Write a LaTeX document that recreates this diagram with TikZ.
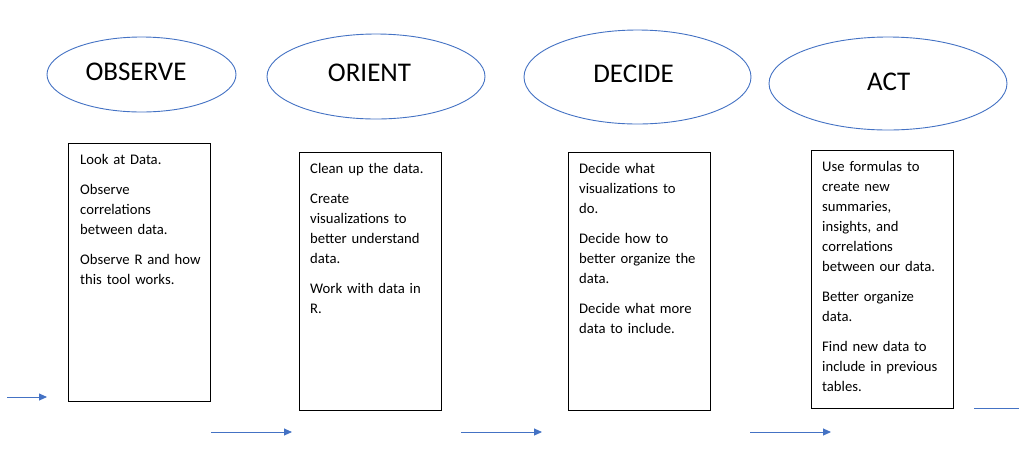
\documentclass[tikz,border=0pt]{standalone}
\usepackage{fontspec}
\setmainfont{Carlito}
\usetikzlibrary{shapes.geometric,arrows.meta}
\definecolor{wordblue}{HTML}{4472C4}
\tikzset{
  phase/.style={ellipse, draw=wordblue, line width=0.9pt, inner sep=0pt},
  phasetext/.style={font=\fontsize{27}{32}\selectfont, inner sep=0pt},
  notebox/.style={rectangle, draw=black, line width=1.2pt, inner sep=0pt, anchor=north west, minimum width=142pt, minimum height=258pt},
  notetext/.style={anchor=north west, inner sep=0pt, align=left, text width=128pt, font=\fontsize{14.67}{20}\selectfont},
  flow/.style={draw=wordblue, line width=0.9pt, -{Triangle[length=8pt,width=7pt]}},
}
\begin{document}
\begin{tikzpicture}[x=1pt,y=-1pt]
\useasboundingbox[fill=white] (0,0) rectangle (1032,456);
\node[phase, minimum width=189pt, minimum height=75pt] (obs) at (141.5,74.5){};
\node[phasetext] (obslabel) at (136,71.7){OBSERVE};
\node[phase, minimum width=218pt, minimum height=85pt] (ori) at (376,76.5){};
\node[phasetext] (orilabel) at (369.5,72.5){ORIENT};
\node[phase, minimum width=227pt, minimum height=94pt] (dec) at (637.5,77){};
\node[phasetext] (declabel) at (633.5,73.8){DECIDE};
\node[phase, minimum width=238pt, minimum height=93pt] (act) at (888,83.5){};
\node[phasetext] (actlabel) at (888.7,82.3){ACT};

\node[notebox] (obsbox) at (68,143){};
\node[notetext] (obstext) at (80,150){\strut Look at Data.\\[10pt]
Observe\\ correlations\\ between data.\\[10pt]
Observe R and how\\ this tool works.};
\node[notebox] (oribox) at (299,152){};
\node[notetext] (oritext) at (310,159){\strut Clean up the data.\\[10pt]
Create\\ visualizations to\\ better understand\\ data.\\[10pt]
Work with data in\\ R.};
\node[notebox] (decbox) at (568,152){};
\node[notetext] (dectext) at (579,159){\strut Decide what\\ visualizations to\\ do.\\[10pt]
Decide how to\\ better organize the\\ data.\\[10pt]
Decide what more\\ data to include.};
\node[notebox] (actbox) at (811,150){};
\node[notetext] (acttext) at (822,157){\strut Use formulas to\\ create new\\ summaries,\\ insights, and\\ correlations\\ between our data.\\[10pt]
Better organize\\ data.\\[10pt]
Find new data to\\ include in previous\\ tables.};

\coordinate (s0) at (7,397);
\coordinate (e0) at (47,397);
\draw[flow] (s0) -- (e0);
\coordinate (s1) at (211,432);
\coordinate (e1) at (292,432);
\draw[flow] (s1) -- (e1);
\coordinate (s2) at (461,432);
\coordinate (e2) at (542,432);
\draw[flow] (s2) -- (e2);
\coordinate (s3) at (750,432);
\coordinate (e3) at (831,432);
\draw[flow] (s3) -- (e3);
\coordinate (s4) at (974,408);
\coordinate (e4) at (1019,408);
\draw[draw=wordblue, line width=0.9pt] (s4) -- (e4);

\end{tikzpicture}
\end{document}
